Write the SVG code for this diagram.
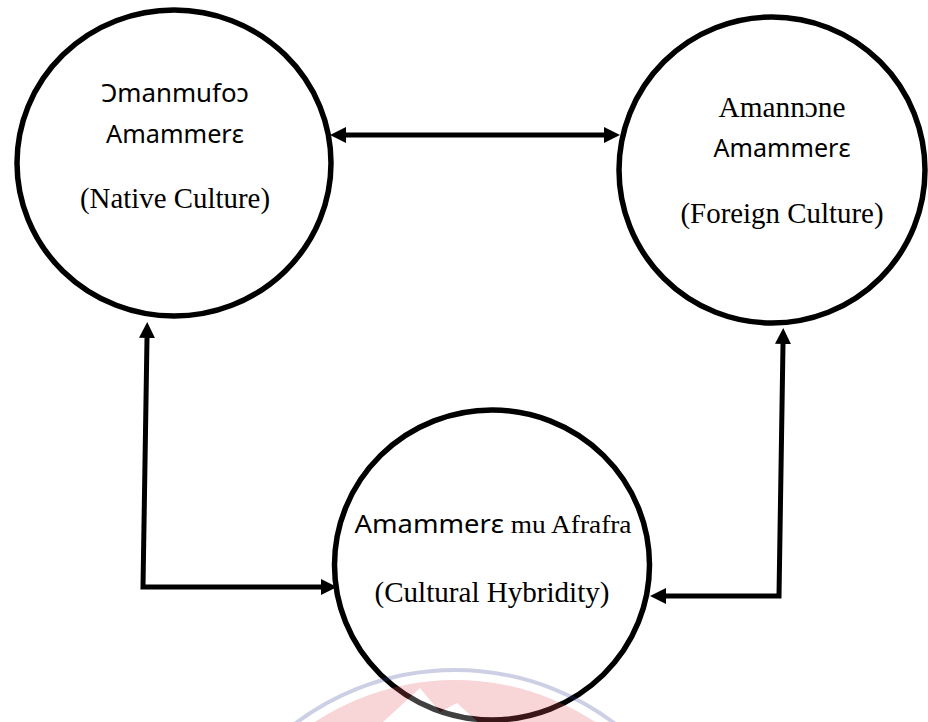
<svg xmlns="http://www.w3.org/2000/svg" width="928" height="722" viewBox="0 0 928 722">
  <style>
    .node { fill: none; stroke: #000; stroke-width: 5.5; }
    .conn { fill: none; stroke: #000; stroke-width: 5; stroke-linejoin: miter; stroke-linecap: butt; }
    .sans { font-family: "Noto Sans", "Open Sans", "Liberation Sans", sans-serif; font-size: 26px; fill: #000; }
    .serif { font-family: "Liberation Serif", "Times New Roman", serif; font-size: 29px; fill: #000; }
    .ser { font-family: "Liberation Serif", "Times New Roman", serif; }
    text { text-anchor: middle; }
  </style>
  <defs>
    <marker id="arrow" viewBox="0 0 16 16" markerUnits="userSpaceOnUse" markerWidth="16" markerHeight="16" refX="0" refY="8" orient="auto-start-reverse">
      <path d="M0,0 L16,8 L0,16 z" fill="#000"/>
    </marker>
  </defs>
  <rect width="928" height="722" fill="#fff"/>

  <g id="connectors">
    <line class="conn" x1="346" y1="135" x2="604" y2="135" marker-start="url(#arrow)" marker-end="url(#arrow)"/>
    <polyline class="conn" points="147,338 143,587 321,587" marker-start="url(#arrow)" marker-end="url(#arrow)"/>
    <polyline class="conn" points="783,344 779,596 666,596" marker-start="url(#arrow)" marker-end="url(#arrow)"/>
  </g>

  <g id="native-culture">
    <ellipse class="node" cx="174" cy="163" rx="157" ry="153"/>
    <text class="sans" x="175" y="102" textLength="148" lengthAdjust="spacingAndGlyphs">Ɔmanmufoɔ</text>
    <text class="sans" x="175" y="143" textLength="138" lengthAdjust="spacingAndGlyphs">Amammerɛ</text>
    <text class="serif" x="175" y="208" textLength="190" lengthAdjust="spacingAndGlyphs">(Native Culture)</text>
  </g>

  <g id="foreign-culture">
    <ellipse class="node" cx="772" cy="170" rx="153" ry="153"/>
    <text class="serif" x="782" y="117" textLength="127" lengthAdjust="spacingAndGlyphs">Amannɔne</text>
    <text class="sans" x="782" y="157" textLength="137" lengthAdjust="spacingAndGlyphs">Amammerɛ</text>
    <text class="serif" x="782" y="223" textLength="203" lengthAdjust="spacingAndGlyphs">(Foreign Culture)</text>
  </g>

  <g id="cultural-hybridity">
    <ellipse class="node" cx="492" cy="565" rx="157.5" ry="155"/>
    <text class="sans" x="493" y="533" textLength="277" lengthAdjust="spacingAndGlyphs">Amammerɛ<tspan class="ser"> mu Afrafra</tspan></text>
    <text class="serif" x="492" y="602" textLength="235" lengthAdjust="spacingAndGlyphs">(Cultural Hybridity)</text>
  </g>

  <g id="watermark" opacity="0.25">
    <circle cx="455" cy="935" r="255" fill="#e65a5f"/>
    <polygon points="383,722 420,688 440,712 457,703 478,722" fill="#fff"/>
    <circle cx="455" cy="935" r="265" fill="none" stroke="#3c4696" stroke-width="4"/>
  </g>
</svg>
